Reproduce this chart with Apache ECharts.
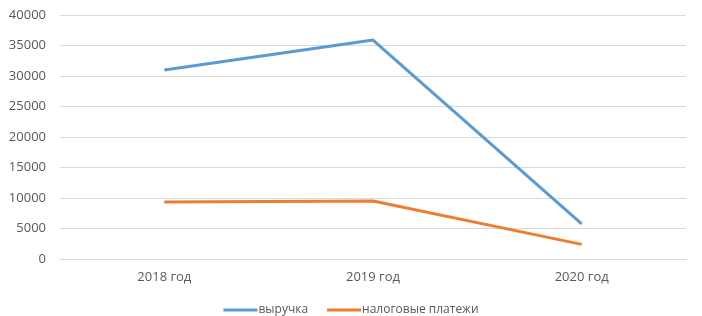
<!DOCTYPE html>
<html><head><meta charset="utf-8">
<script src="https://cdn.jsdelivr.net/npm/echarts@6/dist/echarts.min.js"></script>
<style>html,body{margin:0;padding:0;background:#fff}#c{width:702px;height:316px}</style>
</head><body><div id="c"></div>
<script>
const categories = ['2018 год', '2019 год', '2020 год'];
const revenue = [31000, 35900, 5750];
const taxes = [9350, 9500, 2400];
const seriesNames = ['выручка', 'налоговые платежи'];

const chart = echarts.init(document.getElementById('c'), null, {renderer: 'canvas'});
const font = '"Open Sans", sans-serif';
chart.setOption({
  animation: false,
  textStyle: {fontFamily: font},
  grid: {left: 60, right: 16, top: 15, bottom: 57},
  legend: {
    top: 299, left: 'center', itemWidth: 34, itemHeight: 3, itemGap: 19,
    icon: 'rect',
    textStyle: {color: '#595959', fontSize: 12, fontFamily: font, padding: [0, 0, 0, -4]},
    data: seriesNames
  },
  xAxis: {
    type: 'category', data: categories, boundaryGap: true,
    axisLine: {show: true, lineStyle: {color: '#d9d9d9'}},
    axisTick: {show: false},
    axisLabel: {color: '#595959', fontSize: 13, margin: 12, fontFamily: font}
  },
  yAxis: {
    type: 'value', min: 0, max: 40000, interval: 5000,
    axisLine: {show: false}, axisTick: {show: false},
    splitLine: {lineStyle: {color: '#d9d9d9', width: 1}},
    axisLabel: {color: '#595959', fontSize: 13, margin: 14, fontFamily: font,
      formatter: function (v) { return String(v); }}
  },
  series: [
    {name: seriesNames[0], type: 'line', data: revenue, showSymbol: false, symbol: 'none',
     lineStyle: {color: '#5B9BD5', width: 3}, itemStyle: {color: '#5B9BD5'}},
    {name: seriesNames[1], type: 'line', data: taxes, showSymbol: false, symbol: 'none',
     lineStyle: {color: '#ED7D31', width: 3}, itemStyle: {color: '#ED7D31'}}
  ]
});
</script></body></html>
